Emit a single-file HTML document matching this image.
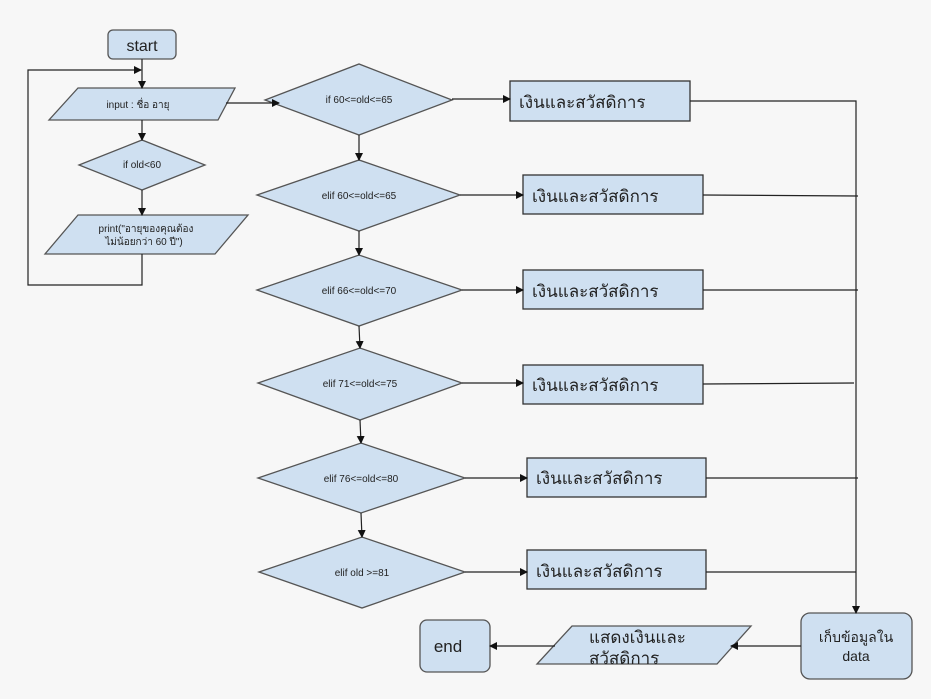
<!DOCTYPE html>
<html><head><meta charset="utf-8"><style>
html,body{margin:0;padding:0;background:#f7f7f7;}
svg{display:block;}
text{font-family:"Liberation Sans","Noto Sans CJK SC",sans-serif;fill:#222;}
</style></head><body>
<svg width="931" height="699" viewBox="0 0 931 699" xmlns="http://www.w3.org/2000/svg">
<defs><marker id="a" markerWidth="8" markerHeight="8" refX="7" refY="4" orient="auto" markerUnits="userSpaceOnUse"><path d="M0,0 L8,4 L0,8 z" fill="#111"/></marker></defs>
<g fill="#cfe0f1" stroke="#555" stroke-width="1.3">
<rect x="108" y="30" width="68" height="29" rx="5"/>
<polygon points="78,88 235,88 218,120 49,120"/>
<polygon points="79,165 142,140 205,165 142,190"/>
<polygon points="78,215 248,215 215,254 45,254"/>
<polygon points="265,100 359,64 452,100 359,135"/>
<polygon points="257,195 359,160 460,195 359,231"/>
<polygon points="257,290 359,255 462,290 359,326"/>
<polygon points="258,383 360,348 462,383 360,420"/>
<polygon points="258,478 361,443 465,478 361,513"/>
<polygon points="259,572 362,537 465,572 362,608"/>
</g>
<g fill="#cfe0f1" stroke="#333" stroke-width="1.3">
<rect x="510" y="81" width="180" height="40"/>
<rect x="523" y="175" width="180" height="39"/>
<rect x="523" y="270" width="180" height="39"/>
<rect x="523" y="365" width="180" height="39"/>
<rect x="527" y="458" width="179" height="39"/>
<rect x="527" y="550" width="179" height="39"/>
</g>
<g fill="#cfe0f1" stroke="#555" stroke-width="1.3">
<rect x="801" y="613" width="111" height="66" rx="9"/>
<polygon points="572,626 751,626 717,664 537,664"/>
<rect x="420" y="620" width="70" height="52" rx="7"/>
</g>
<g stroke="#222" stroke-width="1.2" fill="none">
<line x1="142" y1="59" x2="142" y2="88" marker-end="url(#a)"/>
<polyline points="142,254 142,285 28,285 28,70 141,70" marker-end="url(#a)"/>
<line x1="142" y1="120" x2="142" y2="140" marker-end="url(#a)"/>
<line x1="142" y1="190" x2="142" y2="215" marker-end="url(#a)"/>
<line x1="226" y1="103" x2="279" y2="103" marker-end="url(#a)"/>
<line x1="359" y1="135" x2="359" y2="160" marker-end="url(#a)"/>
<line x1="359" y1="231" x2="359" y2="255" marker-end="url(#a)"/>
<line x1="359" y1="326" x2="360" y2="348" marker-end="url(#a)"/>
<line x1="360" y1="420" x2="361" y2="443" marker-end="url(#a)"/>
<line x1="361" y1="513" x2="362" y2="537" marker-end="url(#a)"/>
<line x1="452" y1="99" x2="510" y2="99" marker-end="url(#a)"/>
<line x1="460" y1="195" x2="523" y2="195" marker-end="url(#a)"/>
<line x1="462" y1="290" x2="523" y2="290" marker-end="url(#a)"/>
<line x1="462" y1="383" x2="523" y2="383" marker-end="url(#a)"/>
<line x1="465" y1="478" x2="527" y2="478" marker-end="url(#a)"/>
<line x1="465" y1="572" x2="527" y2="572" marker-end="url(#a)"/>
<polyline points="690,101 856,101 856,613" marker-end="url(#a)"/>
<line x1="703" y1="195" x2="858" y2="196"/>
<line x1="703" y1="290" x2="858" y2="290"/>
<line x1="703" y1="384" x2="854" y2="383"/>
<line x1="706" y1="478" x2="858" y2="478"/>
<line x1="706" y1="572" x2="856" y2="572"/>
<line x1="801" y1="646" x2="731" y2="646" marker-end="url(#a)"/>
<line x1="555" y1="646" x2="490" y2="646" marker-end="url(#a)"/>
</g>
<g text-anchor="middle">
<text x="142" y="51" font-size="16">start</text>
<text x="138" y="108" font-size="10">input : ชื่อ อายุ</text>
<text x="142" y="168" font-size="10">if old&lt;60</text>
<text x="146" y="232" font-size="10">print("อายุของคุณต้อง</text>
<text x="144" y="245" font-size="10">ไม่น้อยกว่า 60 ปี")</text>
<text x="359" y="103" font-size="10">if 60&lt;=old&lt;=65</text>
<text x="359" y="199" font-size="10">elif 60&lt;=old&lt;=65</text>
<text x="359" y="294" font-size="10">elif 66&lt;=old&lt;=70</text>
<text x="360" y="387" font-size="10">elif 71&lt;=old&lt;=75</text>
<text x="361" y="482" font-size="10">elif 76&lt;=old&lt;=80</text>
<text x="362" y="576" font-size="10">elif old &gt;=81</text>
<text x="856" y="642" font-size="14">เก็บข้อมูลใน</text>
<text x="856" y="661" font-size="14">data</text>
<text x="448" y="652" font-size="17">end</text>
</g>
<g font-size="17">
<text x="519" y="108">เงินและสวัสดิการ</text>
<text x="532" y="202">เงินและสวัสดิการ</text>
<text x="532" y="297">เงินและสวัสดิการ</text>
<text x="532" y="391">เงินและสวัสดิการ</text>
<text x="536" y="484">เงินและสวัสดิการ</text>
<text x="536" y="577">เงินและสวัสดิการ</text>
<text x="589" y="643">แสดงเงินและ</text>
<text x="589" y="664">สวัสดิการ</text>
</g>
</svg>
</body></html>
